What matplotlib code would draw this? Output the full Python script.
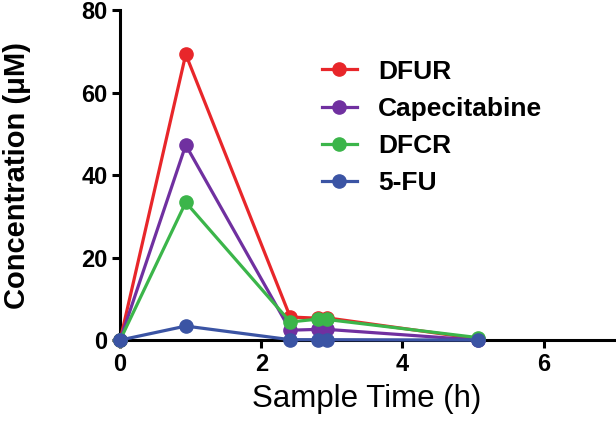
import matplotlib
matplotlib.use("Agg")
import matplotlib.pyplot as plt

plt.rcParams['font.family'] = ['Liberation Sans', 'DejaVu Sans']

times = [0, 0.93, 2.41, 2.81, 2.93, 5.07]
series_names = ["DFUR", "Capecitabine", "DFCR", "5-FU"]
dfur = [0, 69.3, 5.6, 5.3, 5.4, 0.3]
capecitabine = [0, 47.3, 2.4, 2.6, 2.6, 0.0]
dfcr = [0, 33.4, 4.4, 5.1, 5.0, 0.6]
fu5 = [0, 3.4, 0.1, 0.1, 0.1, 0.0]
colors = ["#E8262A", "#7030A0", "#3BB54A", "#3B54A4"]
xticks = [0, 2, 4, 6]
yticks = [0, 20, 40, 60, 80]

fig = plt.figure(figsize=(6.16, 4.23), dpi=100)
ax = fig.add_axes([0.195, 0.196, 0.802, 0.780])

for name, vals, c in zip(series_names, [dfur, capecitabine, dfcr, fu5], colors):
    ax.plot(times, vals, color=c, lw=2.3, marker='o', markersize=9.5, label=name, clip_on=False, zorder=3)

ax.set_xlim(0, 7)
ax.set_ylim(0, 80)
ax.set_xticks(xticks)
ax.set_yticks(yticks)
for s in ['top', 'right']:
    ax.spines[s].set_visible(False)
for s in ['left', 'bottom']:
    ax.spines[s].set_linewidth(2.2)
ax.tick_params(width=2.2, length=6, labelsize=17, pad=3)
for lab in ax.get_xticklabels() + ax.get_yticklabels():
    lab.set_fontweight('bold')
ax.set_xlabel("Sample Time (h)", fontsize=22.5, labelpad=6)
ax.set_ylabel("Concentration (\u03bcM)", fontsize=21, fontweight='bold')
ax.yaxis.set_label_coords(-0.18, 0.5)

leg = ax.legend(loc='upper left', bbox_to_anchor=(0.387, 0.882), frameon=False,
                prop={'weight': 'bold', 'size': 19}, handlelength=1.33,
                labelspacing=0.5, handletextpad=0.8, borderaxespad=0)

fig.savefig("out.png", dpi=100)
